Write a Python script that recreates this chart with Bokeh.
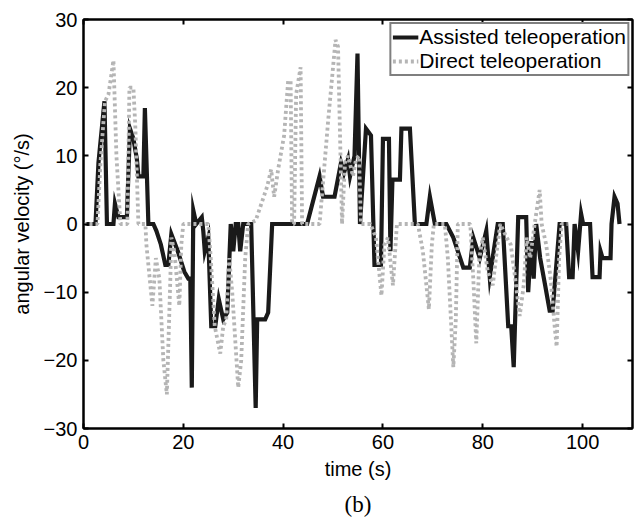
from bokeh.plotting import figure
from bokeh.models import LinearAxis, FixedTicker, Title, Legend, LegendItem, ColumnDataSource
from bokeh.embed import file_html
from bokeh.resources import INLINE

# ---- data ----
assisted_t = [0, 2.4, 3.0, 4.2, 4.7, 6.0, 6.3, 7.0, 8.7, 9.3, 10.0, 10.7, 11.0, 12.0, 12.3, 13.0,
              14.0, 14.6, 15.5, 16.4, 17.0, 17.6, 18.9, 20.2, 21.0, 21.4, 21.7, 22.0, 22.6, 23.7,
              24.0, 24.3, 25.0, 25.6, 26.4, 27.1, 28.0, 28.8, 29.5, 30.0, 30.5, 31.0, 31.4, 32.0,
              33.6, 34.5, 34.8, 36.4, 37.0, 37.8, 44.8, 47.3, 48.0, 50.3, 51.6, 52.2, 53.0, 53.4,
              54.3, 54.9, 55.4, 56.6, 57.6, 58.3, 59.6, 60.0, 61.2, 61.5, 61.9, 63.4, 63.7, 65.4,
              66.4, 68.7, 69.4, 70.4, 72.7, 74.1, 76.1, 77.4, 78.1, 79.4, 80.7, 81.4, 83.0, 84.0,
              85.1, 85.7, 86.2, 87.1, 88.7, 89.1, 89.7, 90.2, 90.7, 91.5, 92.5, 93.4, 94.0, 95.4,
              96.7, 97.3, 98.0, 98.4, 99.1, 99.7, 100.1, 101.5, 102.0, 103.4, 103.6, 104.0, 105.6,
              105.8, 106.4, 107.0, 107.4]
assisted_v = [0, 0, 9, 18, 0, 0, 3, 1, 1, 14, 12.5, 9.5, 7, 7, 17, 0,
              0, -1, -3, -6, -6, -1.5, -4, -7, -8, -8, -24, 2, 0, 1,
              -1, -4, -2, -15, -15, -11, -14, -13, 0, -4, 0, 0, -4, 0,
              0, -27, -14, -14, -13, 0, 0, 7, 4, 4, 9, 7.5, 9.5, 7,
              10, 25, 0, 14, 13, -6, -6, 12.5, 12.5, -4, 6.5, 6.5, 14, 14,
              0, 0, 4, 0, 0, -2, -6.4, -6.4, -2, -5, -1, -7.8, 0, 0,
              -15, -15, -21, 1, 1, -10, -2.5, -8, 0, -5, -9, -12.7, -12.7, 0,
              0, -7.8, -7.8, 0, -4, 1.5, 0, 0, -7.8, -7.8, -4, -5, -5,
              0, 4, 3, 0]

direct_t = [0, 2.8, 3.4, 4.3, 5.0, 6.0, 6.6, 7.4, 8.8, 9.2, 10.0, 10.4, 11.0, 12.4, 12.6, 13.8,
            14.5, 15.2, 16.0, 16.7, 17.4, 17.6, 18.2, 19.2, 19.6, 20.0, 25.0, 25.5, 26.3, 27.4,
            28.0, 28.6, 29.2, 29.8, 31.0, 31.6, 32.4, 33.0, 34.5, 36.8, 37.6, 38.2, 39.0, 40.2,
            41.0, 41.5, 41.8, 42.2, 42.6, 43.5, 43.8, 47.3, 49.0, 50.5, 51.0, 51.8, 52.4, 53.0,
            54.0, 54.6, 55.2, 55.6, 57.5, 58.6, 59.7, 60.3, 61.0, 62.0, 62.8, 67.0, 68.0, 69.2,
            69.8, 70.2, 72.4, 73.0, 74.1, 74.6, 75.0, 77.5, 78.1, 78.7, 79.3, 80.0, 81.0, 82.0,
            82.8, 83.5, 84.8, 85.6, 86.5, 87.4, 88.2, 88.8, 89.5, 90.4, 91.0, 91.4, 91.8, 92.7,
            93.6, 94.4, 94.8, 95.3, 95.8, 97.0]
direct_v = [0, 0, 9, 18, 19, 24, 10, 0, 0, 20, 20, 14, 0, 0, -3, -12,
            -5, -8, -20, -25, -8, -2, -4, -12, -3, 0, 0, -5, -15, -19,
            -15, -14, -5, -10, -24, -20, -5, 0, 0.5, 5.5, 8, 4, 8, 13,
            21, 21, 0, 0, 19, 23, 0, 0, 15, 27, 26, 0, 9, 10,
            7, 9.5, 10, 0, 0, -2, -10.5, -3, -2, -9, 0, 0, -4, -12.5,
            -3, 0, 0, -5, -21, -14, 0, 0, -8, -17.5, -5, -2, -7, -9,
            -4, 0, -2, -3, -8, -13.5, -9, -2, -5, 0, 3, 5, 0, -3,
            -8, -15, -18, -5, 0, 0]

x_ticks = [0, 20, 40, 60, 80, 100]
y_ticks = [-30, -20, -10, 0, 10, 20, 30]
y_tick_labels = {-30: "\u221230", -20: "\u221220", -10: "\u221210", 0: "0",
                 10: "10", 20: "20", 30: "30"}
series_names = ["Assisted teleoperation", "Direct teleoperation"]

FONT = "Liberation Sans"

p = figure(width=636, height=523, x_range=(0, 110), y_range=(-30, 30),
           output_backend="svg", toolbar_location=None,
           min_border_left=83, min_border_right=4, min_border_top=19, min_border_bottom=95)
p.xgrid.visible = False
p.ygrid.visible = False
p.outline_line_color = "black"
p.outline_line_width = 2
p.background_fill_color = "white"
p.border_fill_color = "white"

src_a = ColumnDataSource(dict(t=assisted_t, v=assisted_v))
src_d = ColumnDataSource(dict(t=direct_t, v=direct_v))
r_a = p.line("t", "v", source=src_a, line_color="#1a1a1a", line_width=4.2, line_join="miter")
r_d = p.line("t", "v", source=src_d, line_color="#b5b5b5", line_width=3.8,
             line_dash="3 3", line_cap="butt")

for ax in (p.xaxis[0], p.yaxis[0]):
    ax.axis_line_width = 2
    ax.major_tick_in = 5
    ax.major_tick_out = 0
    ax.major_tick_line_width = 2
    ax.minor_tick_line_color = None
    ax.major_label_text_font = FONT
    ax.major_label_text_font_size = "20px"
    ax.major_label_text_color = "black"
    ax.axis_label_text_font = FONT
    ax.axis_label_text_font_size = "20px"
    ax.axis_label_text_font_style = "normal"
    ax.axis_label_text_color = "black"

p.xaxis[0].ticker = FixedTicker(ticks=x_ticks)
p.yaxis[0].ticker = FixedTicker(ticks=y_ticks)
p.yaxis[0].major_label_overrides = y_tick_labels
p.yaxis[0].major_label_standoff = 6
p.xaxis[0].major_label_standoff = 6
p.xaxis[0].axis_label = "time (s)"
p.yaxis[0].axis_label = "angular velocity (\u00b0/s)"
p.xaxis[0].axis_label_standoff = 6
p.yaxis[0].axis_label_standoff = 8

top = LinearAxis(ticker=FixedTicker(ticks=x_ticks))
right = LinearAxis(ticker=FixedTicker(ticks=y_ticks))
for ax in (top, right):
    ax.axis_line_width = 2
    ax.major_tick_in = 5
    ax.major_tick_out = 0
    ax.major_tick_line_width = 2
    ax.minor_tick_line_color = None
    ax.major_label_text_font_size = "0px"
    ax.major_label_standoff = 0
p.add_layout(top, "above")
p.add_layout(right, "right")

legend = Legend(items=[LegendItem(label=series_names[0], renderers=[r_a]),
                       LegendItem(label=series_names[1], renderers=[r_d])],
                location="top_right")
legend.label_text_font = FONT
legend.label_text_font_size = "21px"
legend.label_text_color = "black"
legend.glyph_width = 26
legend.glyph_height = 22
legend.label_height = 22
legend.label_standoff = 1
legend.spacing = 0
legend.padding = 1
legend.margin = 3
legend.border_line_color = "black"
legend.border_line_width = 2
legend.background_fill_alpha = 1
p.add_layout(legend)

sub = Title(text="(b)", align="center", text_font="Liberation Serif",
            text_font_size="23px", text_font_style="normal", text_color="black",
            standoff=14, offset=0)
p.add_layout(sub, "below")

open("out.html", "w").write(file_html(p, INLINE))
